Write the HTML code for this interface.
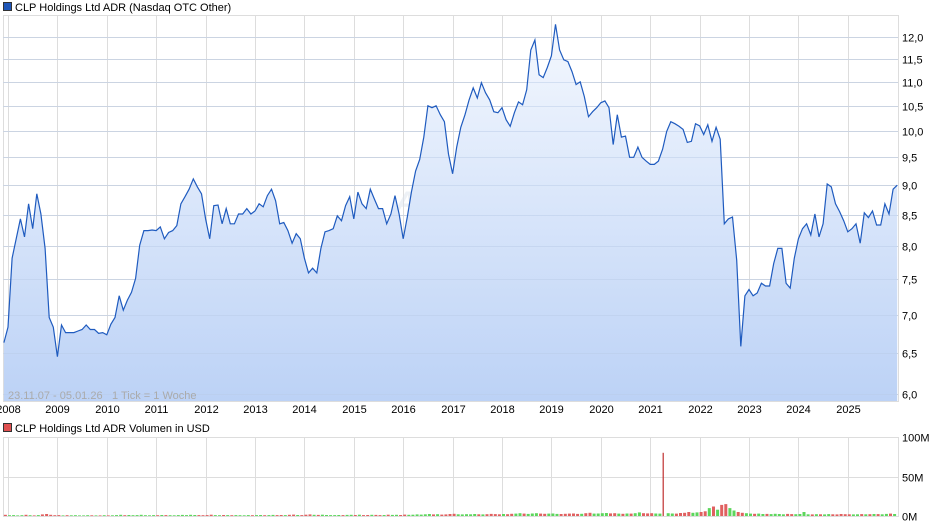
<!DOCTYPE html>
<html><head><meta charset="utf-8">
<style>
body{margin:0;background:#fff;width:940px;height:526px;overflow:hidden;font-family:"Liberation Sans",sans-serif}
svg text{font-family:"Liberation Sans",sans-serif}
</style></head>
<body>
<svg id="c" width="940" height="526" viewBox="0 0 940 526" xmlns="http://www.w3.org/2000/svg">
<defs>
<linearGradient id="fg" x1="0" y1="0" x2="0" y2="1">
<stop offset="0" stop-color="#f4f8fe"/><stop offset="1" stop-color="#bcd2f6"/>
</linearGradient>
</defs>
<g>
<rect x="3.5" y="2.5" width="8" height="8" fill="#1f56b8" stroke="#333" stroke-width="1"/>
<text x="15" y="11" font-size="11" fill="#000">CLP Holdings Ltd ADR (Nasdaq OTC Other)</text>
</g>
<g>
<rect x="3.5" y="423.5" width="8" height="8" fill="#e05050" stroke="#333" stroke-width="1"/>
<text x="15" y="432" font-size="11" fill="#000">CLP Holdings Ltd ADR Volumen in USD</text>
</g>
<g id="grid"></g>
<text x="395" y="212" font-size="30" font-style="italic" font-weight="bold" fill="#dde4ee" opacity="0.5">ARIVA.DE</text>
<g id="price"></g>
<g id="vol"></g>
<g id="axes"></g>
<g>
<text x="8" y="399" font-size="11" fill="#aaa">23.11.07 - 05.01.26</text>
<text x="112" y="399" font-size="11" fill="#aaa">1 Tick = 1 Woche</text>
</g>
</svg>
<script>
// monthly closes starting Dec 2007
const startYear = 2007.917;
const prices = [6.63,6.83,7.81,8.11,8.43,8.14,8.68,8.27,8.85,8.51,7.96,6.96,6.83,6.45,6.86,6.76,6.76,6.76,6.78,6.80,6.86,6.80,6.80,6.75,6.76,6.73,6.87,6.96,7.26,7.06,7.20,7.31,7.51,8.01,8.24,8.24,8.25,8.24,8.30,8.11,8.21,8.24,8.32,8.68,8.80,8.93,9.11,8.97,8.85,8.43,8.11,8.65,8.66,8.35,8.60,8.35,8.35,8.51,8.51,8.60,8.51,8.56,8.68,8.63,8.82,8.93,8.73,8.35,8.37,8.24,8.04,8.19,8.11,7.81,7.59,7.66,7.59,7.96,8.22,8.24,8.27,8.48,8.40,8.65,8.80,8.43,8.88,8.68,8.60,8.93,8.76,8.60,8.60,8.35,8.51,8.82,8.51,8.11,8.46,8.88,9.25,9.46,9.88,10.50,10.46,10.50,10.32,10.18,9.56,9.20,9.69,10.07,10.32,10.62,10.87,10.66,10.98,10.77,10.62,10.38,10.36,10.46,10.22,10.09,10.36,10.58,10.52,10.83,11.70,11.93,11.15,11.09,11.31,11.57,12.30,11.70,11.48,11.44,11.22,10.94,11.00,10.69,10.28,10.38,10.46,10.56,10.60,10.46,9.74,10.32,9.88,9.90,9.50,9.50,9.69,9.50,9.43,9.37,9.37,9.43,9.65,9.99,10.18,10.14,10.09,10.03,9.78,9.80,10.14,10.10,9.93,10.12,9.80,10.07,9.84,8.35,8.43,8.46,7.78,6.58,7.26,7.35,7.26,7.30,7.44,7.40,7.40,7.73,7.96,7.96,7.44,7.37,7.81,8.11,8.27,8.35,8.17,8.51,8.14,8.35,9.02,8.97,8.68,8.55,8.40,8.22,8.27,8.35,8.04,8.53,8.45,8.56,8.33,8.33,8.68,8.51,8.93,9.00];
const volumes = [1.5,1,1.2,0.8,1,1.5,1,0.8,1.2,2,2.5,1.5,1,1.2,0.8,1,0.9,1,0.7,0.8,1,0.9,0.8,0.7,1,0.8,0.9,1.2,1.5,1,1.3,1,1.2,1.5,1,0.9,1.1,1,1.3,1.2,1,0.9,1.1,1.4,1.2,1.5,1.3,1.1,1,1.2,1.6,1.1,1,1.3,1.2,1,1.1,1,0.9,1.2,1,1.1,1.3,1,1.2,1.4,1.1,1.3,1.2,1.5,1.8,1.3,1.2,1.6,2,1.5,1.4,1.6,1.3,1.2,1.1,1.3,1.2,1.4,1.5,1.3,1.6,1.2,1.3,1.5,1.4,1.2,1.3,1.6,1.4,1.5,1.3,1.8,1.5,1.7,2,1.8,2.2,2.5,2,2.3,1.8,2,2.5,2.8,2.2,2,2.3,2.1,2.5,2.2,2,2.3,2.6,2.4,2.2,2.5,2.3,2.8,3,3.5,3,2.6,3.2,3.5,3,2.8,3,3.2,2.7,2.5,2.8,3,3.2,2.6,2.8,3.5,4,3,3.2,3.5,3.8,3.3,3.6,3,2.8,3.2,3,3.5,4.5,3.5,3.3,3.6,3.2,3,80,3.5,3.2,3,3.8,4,5,4,4.5,5,6,10,12,8,14,15,10,7,5,4,3.5,3,2.8,3,2.5,2.6,2.4,2.8,2.5,2.2,2.6,2.4,2.3,2.5,5,2.2,2,2.3,2.1,2,2.4,2.2,2,2.5,2.3,2.1,2,2.2,2.4,2.1,2.3,2.5,2.4,2.2,2.6,3,2.5];
const yTicks = [6.0,6.5,7.0,7.5,8.0,8.5,9.0,9.5,10.0,10.5,11.0,11.5,12.0];
const xTicks = [2008,2009,2010,2011,2012,2013,2014,2015,2016,2017,2018,2019,2020,2021,2022,2023,2024,2025];
const volTicks = [0,50,100];

const NS="http://www.w3.org/2000/svg";
const L=3,R=898,T=15,B=401,VT=437,VB=516;
const xS=y=>8+(y-2008)*49.4;
const yS=v=>37+515*Math.log(12/v);
const vS=m=>VB-(VB-VT)*m/100;
function mk(tag,attrs,parent){const e=document.createElementNS(NS,tag);for(const k in attrs)e.setAttribute(k,attrs[k]);parent.appendChild(e);return e;}
const grid=document.getElementById('grid'),axes=document.getElementById('axes');
mk('rect',{x:L+0.5,y:T+0.5,width:R-L,height:B-T,fill:'#fff',stroke:'#ddd'},grid);
mk('rect',{x:L+0.5,y:VT+0.5,width:R-L,height:VB-VT,fill:'#fff',stroke:'#ddd'},grid);
yTicks.forEach(t=>{const y=Math.round(yS(t))+0.5;
 const ln=mk('line',{x1:L,x2:R,y1:y,y2:y,stroke:'#ddd'},grid);
 
 const tx=mk('text',{x:902,y:y+4,'font-size':11,fill:'#000'},axes);tx.textContent=t.toFixed(1).replace('.',',');
 });
xTicks.forEach(t=>{const x=Math.round(xS(t))+0.5;
 mk('line',{x1:x,x2:x,y1:T,y2:B,stroke:'#ddd'},grid);
 mk('line',{x1:x,x2:x,y1:VT,y2:VB,stroke:'#ddd'},grid);
 const tx=mk('text',{x:x,y:413,'font-size':11,fill:'#000','text-anchor':'middle'},axes);tx.textContent=t;
 });
volTicks.forEach(t=>{const y=Math.round(vS(t))+0.5;
 mk('line',{x1:L,x2:R,y1:y,y2:y,stroke:'#ddd'},grid);
 const tx=mk('text',{x:902,y:y+4,'font-size':11,fill:'#000'},axes);tx.textContent=t+'M';
 });
const pg=document.getElementById('price');
const pts=prices.map((p,i)=>[Math.min(R,Math.max(L,xS(startYear+i/12))),yS(p)]);
const d=pts.map((p,i)=>(i?'L':'M')+p[0].toFixed(1)+','+p[1].toFixed(1)).join('');
const area=mk('path',{d:d+`L${pts[pts.length-1][0]},${B}L${pts[0][0]},${B}Z`,fill:'url(#fg)'},pg);

yTicks.forEach(t=>{const y=Math.round(yS(t))+0.5;mk('line',{x1:L,x2:R,y1:y,y2:y,stroke:'#b9cbe8','stroke-opacity':0.5},pg);});
const line=mk('path',{d:d,fill:'none',stroke:'#1f5bbf','stroke-width':1.2},pg);

const vg=document.getElementById('vol');
volumes.forEach((v,i)=>{const x=xS(startYear+i/12);const up=i>0&&prices[i]>=prices[i-1];
 const big=v>50;
 const r=mk('rect',{x:x.toFixed(1),y:vS(v).toFixed(1),width:big?1.2:3,height:(VB-vS(v)).toFixed(1),fill:big?'#c03030':(up?'#5cd65c':'#e06060')},vg);
 });
</script>
</body></html>
